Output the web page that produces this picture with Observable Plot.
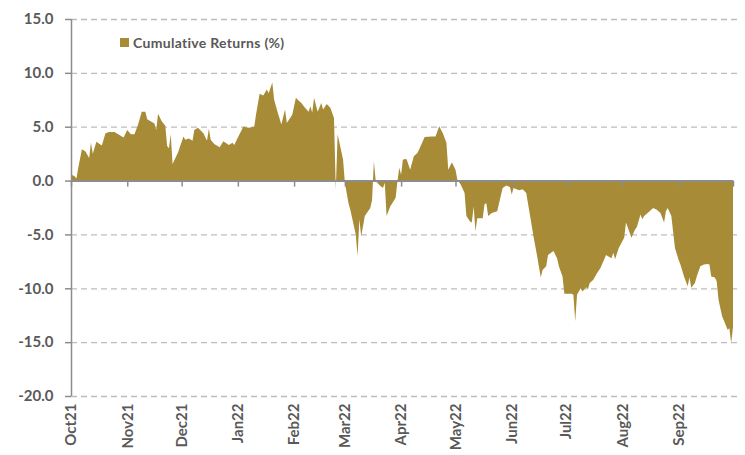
<!DOCTYPE html>
<html><head><meta charset="utf-8">
<script src="https://cdn.jsdelivr.net/npm/d3@7"></script>
<script src="https://cdn.jsdelivr.net/npm/@observablehq/plot@0.6"></script>
<style>
body{margin:0;background:#fff;}
#wrap{position:relative;width:745px;height:455px;}
.legend{position:absolute;left:120px;top:34px;font:bold 14px Lato,sans-serif;letter-spacing:0.3px;color:#595959;display:flex;align-items:center;}
.legend .sw{width:9px;height:9px;background:#a78b36;margin-right:4px;display:inline-block;}
</style></head>
<body><div id="wrap"><div class="legend"><span class="sw"></span><span>Cumulative Returns (%)</span></div></div>
<script>
const seriesName = "Cumulative Returns (%)";
const dates = [
"2021-10-01","2021-10-03","2021-10-04","2021-10-05","2021-10-07","2021-10-09","2021-10-11","2021-10-12","2021-10-13","2021-10-15",
"2021-10-18","2021-10-20","2021-10-22","2021-10-25","2021-10-27","2021-10-30","2021-11-01","2021-11-03","2021-11-05","2021-11-07",
"2021-11-09","2021-11-11","2021-11-12","2021-11-16","2021-11-17","2021-11-18","2021-11-20","2021-11-22","2021-11-23","2021-11-24",
"2021-11-25","2021-11-26","2021-11-29","2021-12-02","2021-12-03","2021-12-05","2021-12-07","2021-12-08","2021-12-10","2021-12-13",
"2021-12-15","2021-12-16","2021-12-17","2021-12-19","2021-12-22","2021-12-24","2021-12-27","2021-12-29","2021-12-30","2022-01-01",
"2022-01-04","2022-01-07","2022-01-10","2022-01-11","2022-01-13","2022-01-15","2022-01-17","2022-01-18","2022-01-20","2022-01-21",
"2022-01-23","2022-01-25","2022-01-27","2022-01-28","2022-01-31","2022-02-02","2022-02-03","2022-02-05","2022-02-07","2022-02-09",
"2022-02-10","2022-02-11","2022-02-12","2022-02-14","2022-02-16","2022-02-17","2022-02-19","2022-02-21","2022-02-23","2022-02-24",
"2022-02-25","2022-02-28","2022-03-01","2022-03-03","2022-03-04","2022-03-07","2022-03-08","2022-03-09","2022-03-10","2022-03-12",
"2022-03-15","2022-03-16","2022-03-17","2022-03-18","2022-03-20","2022-03-22","2022-03-23","2022-03-24","2022-03-26","2022-03-29",
"2022-03-30","2022-03-31","2022-04-01","2022-04-02","2022-04-04","2022-04-06","2022-04-08","2022-04-10","2022-04-11","2022-04-14",
"2022-04-18","2022-04-20","2022-04-22","2022-04-24","2022-04-26","2022-04-27","2022-04-29","2022-05-01","2022-05-02","2022-05-04",
"2022-05-06","2022-05-07","2022-05-09","2022-05-10","2022-05-11","2022-05-12","2022-05-13","2022-05-16","2022-05-17","2022-05-18",
"2022-05-19","2022-05-21","2022-05-24","2022-05-25","2022-05-27","2022-05-29","2022-05-31","2022-06-01","2022-06-02","2022-06-05",
"2022-06-07","2022-06-09","2022-06-11","2022-06-13","2022-06-15","2022-06-17","2022-06-18","2022-06-20","2022-06-21","2022-06-24",
"2022-06-26","2022-06-27","2022-06-29","2022-06-30","2022-07-04","2022-07-05","2022-07-06","2022-07-07","2022-07-09","2022-07-10",
"2022-07-12","2022-07-13","2022-07-14","2022-07-16","2022-07-18","2022-07-20","2022-07-23","2022-07-26","2022-07-27","2022-07-28",
"2022-07-30","2022-08-02","2022-08-03","2022-08-06","2022-08-08","2022-08-09","2022-08-11","2022-08-12","2022-08-13","2022-08-16",
"2022-08-18","2022-08-20","2022-08-22","2022-08-24","2022-08-25","2022-08-26","2022-08-28","2022-08-30","2022-09-01","2022-09-02",
"2022-09-04","2022-09-06","2022-09-07","2022-09-08","2022-09-10","2022-09-11","2022-09-13","2022-09-15","2022-09-17","2022-09-18",
"2022-09-19","2022-09-21","2022-09-22","2022-09-23","2022-09-25","2022-09-27","2022-09-28","2022-09-29","2022-09-30","2022-10-01"
];
const values = [
0.56,0.4,0.2,1.2,2.9,2.7,2.1,3.5,2.5,3.6,
3.25,4.4,4.5,4.5,4.3,4.0,4.7,4.3,4.3,5.2,
6.4,6.4,5.7,5.3,4.7,6.2,5.5,5.1,3.2,3.0,
4.3,1.55,2.6,4.1,3.8,3.9,3.7,4.7,4.9,4.4,
3.7,4.8,3.8,3.4,3.1,3.65,3.3,3.5,3.3,4.0,
5.0,4.9,5.0,6.1,8.05,7.9,8.45,8.1,9.1,7.5,
6.3,5.2,6.6,5.35,6.1,7.7,7.5,7.2,6.75,6.4,
6.9,6.3,7.7,6.4,7.2,6.6,7.1,6.75,5.8,-0.85,
4.3,1.95,-0.2,-2.1,-2.7,-5.0,-7.0,-3.6,-5.2,-3.3,
-2.55,-1.8,1.8,-0.05,-0.4,-0.7,-0.2,-3.3,-2.4,-1.6,
-0.05,1.2,0.55,1.95,2.0,1.0,2.25,2.55,2.9,4.05,
4.1,4.1,5.05,4.4,3.5,1.0,1.7,1.0,0.1,-0.4,
-1.15,-3.3,-3.8,-3.9,-2.4,-4.7,-3.5,-3.5,-2.2,-2.1,
-3.3,-3.0,-2.85,-2.1,-0.7,-0.45,-0.6,-1.3,-0.7,-0.9,
-0.8,-1.15,-3.15,-5.2,-7.0,-9.0,-8.3,-7.95,-6.9,-6.55,
-7.2,-7.95,-8.9,-10.5,-10.5,-10.6,-13.05,-10.6,-10.0,-10.3,
-9.9,-10.1,-9.5,-9.2,-8.6,-8.1,-6.9,-7.2,-6.7,-7.3,
-6.25,-5.3,-3.9,-5.3,-4.55,-4.3,-3.15,-3.6,-3.3,-2.85,
-2.55,-2.7,-3.0,-3.9,-2.85,-2.55,-3.3,-6.25,-7.35,-7.8,
-8.9,-9.8,-9.0,-9.95,-9.5,-8.9,-7.95,-7.8,-7.75,-7.8,
-8.9,-9.0,-9.35,-11.05,-12.6,-13.4,-13.85,-13.7,-15.1,-13.6
];
const monthTicks = ["2021-10-01","2021-11-01","2021-12-01","2022-01-01","2022-02-01","2022-03-01",
"2022-04-01","2022-05-01","2022-06-01","2022-07-01","2022-08-01","2022-09-01"];
const periodEnd = "2022-10-01";
const yTicks = [15,10,5,0,-5,-10,-15,-20];

const data = dates.map((d,i) => ({date: new Date(d), value: values[i]}));
const tickDates = monthTicks.map(d => new Date(d));
const tickMarks = [...tickDates, new Date(periodEnd)];
const start = tickDates[0];
const gold = "#a78b36";
const axisGray = "#8c8c8c";
const textGray = "#595959";
const fmtMonth = d3.utcFormat("%b%y");

const chart = Plot.plot({
  width: 745, height: 455,
  marginLeft: 71, marginRight: 12, marginTop: 19, marginBottom: 59,
  style: {fontFamily: "Lato, sans-serif", background: "#fff"},
  x: {type: "utc", domain: [start, new Date(periodEnd)]},
  y: {domain: [-20, 15]},
  marks: [
    Plot.ruleY(yTicks.filter(d => d !== 0), {stroke: "#bdbdbd", strokeWidth: 1.3, strokeDasharray: "6,4", insetRight: -8}),
    Plot.areaY(data, {x: "date", y: "value", fill: gold, title: () => seriesName}),
    Plot.ruleY([0], {stroke: axisGray, strokeWidth: 2}),
    Plot.ruleX(tickMarks, {x: d => d, y1: 0, y2: 0, insetBottom: -6, stroke: axisGray, strokeWidth: 1.5}),
    Plot.ruleX([start], {y1: -20, y2: 15, stroke: axisGray, strokeWidth: 1.5}),
    Plot.ruleY(yTicks, {x1: start, x2: start, insetLeft: -6, stroke: axisGray, strokeWidth: 1.5}),
    Plot.axisY(yTicks, {tickSize: 0, tickPadding: 18, tickFormat: d => d.toFixed(1), fontSize: 15, fontWeight: "bold", fill: textGray, label: null}),
    Plot.axisX(tickDates, {anchor: "bottom", tickSize: 0, tickPadding: 7, tickRotate: -90, tickFormat: fmtMonth, fontSize: 15, fontWeight: "bold", fill: textGray, label: null})
  ]
});
document.getElementById("wrap").prepend(chart);
</script></body></html>
